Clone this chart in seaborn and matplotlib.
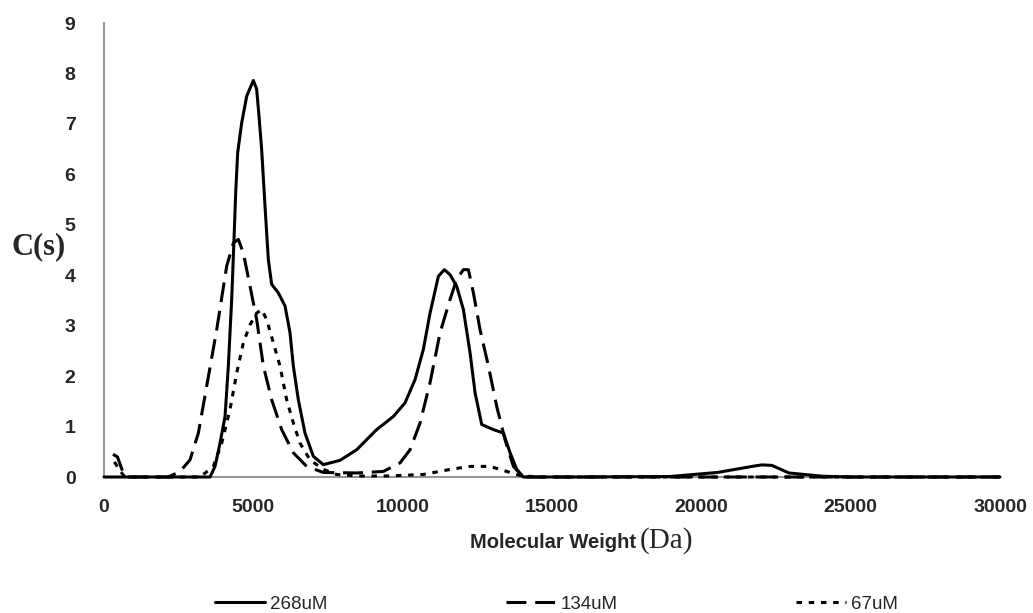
import numpy as np
import pandas as pd
import matplotlib
matplotlib.use("Agg")
import matplotlib.pyplot as plt
import seaborn as sns

# c(s) distributions converted to molecular weight, one trace per concentration
mw_268 = [0, 3000, 3550, 3717, 3884, 4053, 4163, 4275, 4353, 4409, 4476, 4610, 4778,
          5000, 5111, 5189, 5279, 5391, 5502, 5614, 5837, 6061, 6228, 6339, 6507,
          6730, 7009, 7344, 7902, 8460, 9130, 9688, 10079, 10414, 10693, 10917,
          11196, 11397, 11587, 11810, 12033, 12257, 12424, 12647, 13037, 13373,
          13596, 13820, 14043, 16000, 18950, 20540, 21800, 22030, 22365, 22930,
          24070, 25000, 30000]
cs_268 = [0, 0, 0, 0.21, 0.67, 1.20, 2.20, 3.52, 4.71, 5.63, 6.43, 7.02, 7.55,
          7.86, 7.69, 7.16, 6.49, 5.37, 4.31, 3.82, 3.65, 3.39, 2.86, 2.20, 1.53,
          0.87, 0.41, 0.245, 0.33, 0.54, 0.94, 1.20, 1.47, 1.93, 2.53, 3.25,
          3.98, 4.11, 4.01, 3.78, 3.32, 2.46, 1.67, 1.04, 0.94, 0.87,
          0.48, 0.15, 0, 0, 0.01, 0.09, 0.22, 0.24, 0.23, 0.08,
          0.015, 0, 0]

mw_134 = [300, 450, 600, 750, 1500, 2154, 2546, 2880, 3159, 3438, 3773, 4108, 4331,
          4499, 4666, 4890, 5112, 5336, 5615, 5949, 6340, 6786, 7344, 8460, 9354,
          9912, 10247, 10582, 10917, 11252, 11587, 11810, 12033, 12200, 12368,
          12591, 12870, 13149, 13428, 13707, 14043, 20000, 30000]
cs_134 = [0.45, 0.40, 0.15, 0, 0, 0, 0.11, 0.34, 0.87, 1.80, 2.92, 4.18, 4.64,
          4.71, 4.44, 3.78, 3.12, 2.20, 1.53, 0.94, 0.48, 0.21, 0.09, 0.08, 0.11,
          0.28, 0.54, 1.07, 1.87, 2.86, 3.52, 3.92, 4.11, 4.11, 3.65,
          2.92, 2.20, 1.40, 0.74, 0.21, 0, 0, 0]

mw_67 = [350, 500, 700, 2000, 3215, 3326, 3661, 3941, 4220, 4443, 4666, 4890, 5112,
         5279, 5447, 5670, 5893, 6116, 6340, 6564, 6898, 7344, 7790, 8500, 9500,
         10693, 11587, 12257, 12925, 13373, 13931, 14500, 20000, 30000]
cs_67 = [0.30, 0.15, 0, 0, 0, 0.05, 0.21, 0.67, 1.34, 2.06, 2.66, 3.02, 3.25,
         3.32, 3.12, 2.66, 2.20, 1.53, 1.07, 0.67, 0.34, 0.15, 0.05, 0.02, 0.02,
         0.05, 0.15, 0.21, 0.21, 0.13, 0.03, 0, 0, 0]

series_labels = ["268uM", "134uM", "67uM"]
x_ticks = [0, 5000, 10000, 15000, 20000, 25000, 30000]
y_ticks = [0, 1, 2, 3, 4, 5, 6, 7, 8, 9]

df = pd.concat([
    pd.DataFrame({"mw": mw_268, "cs": cs_268, "conc": series_labels[0]}),
    pd.DataFrame({"mw": mw_134, "cs": cs_134, "conc": series_labels[1]}),
    pd.DataFrame({"mw": mw_67, "cs": cs_67, "conc": series_labels[2]}),
], ignore_index=True)

sns.set_style("white")
plt.rcParams["font.family"] = ["Liberation Sans", "DejaVu Sans"]

fig = plt.figure(figsize=(10.33, 6.13), dpi=100)
ax = fig.add_axes([104 / 1033, 1 - 477 / 613, (1000 - 104) / 1033, (477 - 23) / 613])

line_styles = {
    "268uM": "-",
    "134uM": (0, (6.5, 2.9)),
    "67uM": (0, (1.8, 2.2)),
}
for lab in series_labels:
    sub = df[df["conc"] == lab]
    sns.lineplot(data=sub, x="mw", y="cs", ax=ax, color="black", linewidth=2.2,
                 linestyle=line_styles[lab], errorbar=None, sort=True,
                 label=lab, legend=False, clip_on=False, zorder=3)

ax.set_xlim(0, 30000)
ax.set_ylim(0, 9)
ax.set_xticks(x_ticks)
ax.set_yticks(y_ticks)
ax.set_xticklabels([str(v) for v in x_ticks], fontweight="bold", fontsize=14)
ax.set_yticklabels([str(v) for v in y_ticks], fontweight="bold", fontsize=14)
ax.tick_params(axis="x", direction="out", length=5, width=1, color="#808080", pad=11)
ax.tick_params(axis="y", direction="out", length=4.5, width=1, color="#808080", pad=16)
for side in ["top", "right"]:
    ax.spines[side].set_visible(False)
for side in ["left", "bottom"]:
    ax.spines[side].set_color("#808080")
    ax.spines[side].set_linewidth(1.2)
ax.set_xlabel("")
ax.set_ylabel("")
ax.grid(False)

# axis titles
fig.text(38.5 / 1033, 1 - 247 / 613, "C(s)", ha="center", va="center",
         fontsize=22, fontweight="bold", family=["Liberation Serif", "DejaVu Serif"])
fig.text(636 / 1033, 1 - 548 / 613, "Molecular Weight", ha="right", va="baseline",
         fontsize=14.5, fontweight="bold")
fig.text(640 / 1033, 1 - 548 / 613, "(Da)", ha="left", va="baseline",
         fontsize=21, family=["Liberation Serif", "DejaVu Serif"])

handles, labels = ax.get_legend_handles_labels()
fig.legend(handles, labels, loc="center", bbox_to_anchor=(556.5 / 1033, 1 - 604 / 613),
           ncol=3, frameon=False, fontsize=13.5, handlelength=2.67,
           handletextpad=0.27, columnspacing=9.5, borderpad=0, borderaxespad=0)

fig.savefig("out.png", dpi=100)
